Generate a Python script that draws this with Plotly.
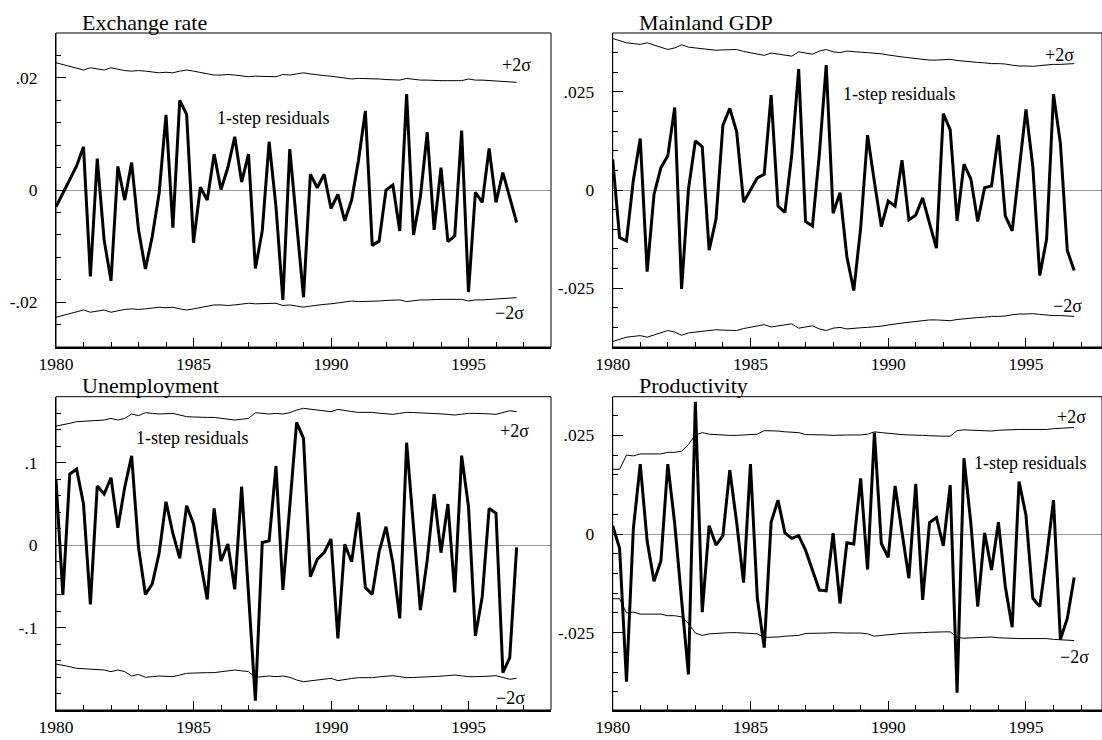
import numpy as np
import plotly.graph_objects as go

# ---------------- data (quarterly, 1980Q1 .. 1996Q4) ----------------
exch_resid = [-0.0030, -0.0005, 0.0018, 0.0043, 0.0077, -0.0154, 0.0056, -0.0089,
              -0.0162, 0.0042, -0.0018, 0.0049, -0.0071, -0.0141, -0.0083, -0.0006,
              0.0134, -0.0067, 0.0160, 0.0135, -0.0094, 0.0005, -0.0018, 0.0064,
              0.0001, 0.0040, 0.0095, 0.0014, 0.0064, -0.0140, -0.0073, 0.0086,
              -0.0030, -0.0196, 0.0073, -0.0055, -0.0191, 0.0028, 0.0004, 0.0028,
              -0.0033, -0.0008, -0.0055, -0.0018, 0.0053, 0.0141, -0.0099, -0.0091,
              0.0000, 0.0009, -0.0073, 0.0171, -0.0080, -0.0012, 0.0103, -0.0071,
              0.0040, -0.0092, -0.0082, 0.0106, -0.0182, -0.0004, -0.0022, 0.0074,
              -0.0022, 0.0031, -0.0015, -0.0058]
exch_2sigma = [0.0227, 0.0224, 0.0220, 0.0217, 0.0214, 0.0218, 0.0216, 0.0214,
               0.0218, 0.0215, 0.0213, 0.0212, 0.0213, 0.0212, 0.0211, 0.0209,
               0.0210, 0.0209, 0.0212, 0.0214, 0.0212, 0.0210, 0.0208, 0.0205,
               0.0205, 0.0206, 0.0205, 0.0204, 0.0202, 0.0203, 0.0203, 0.0202,
               0.0202, 0.0206, 0.0205, 0.0207, 0.0209, 0.0207, 0.0205, 0.0204,
               0.0203, 0.0201, 0.0200, 0.0198, 0.0199, 0.0199, 0.0198, 0.0198,
               0.0197, 0.0197, 0.0196, 0.0199, 0.0197, 0.0196, 0.0196, 0.0195,
               0.0195, 0.0195, 0.0195, 0.0195, 0.0198, 0.0196, 0.0196, 0.0195,
               0.0195, 0.0194, 0.0192, 0.0192]

gdp_resid = [0.0078, -0.0121, -0.0130, 0.0025, 0.0131, -0.0208, -0.0011, 0.0057,
             0.0087, 0.0210, -0.0252, 0.0002, 0.0125, 0.0110, -0.0153, -0.0074,
             0.0165, 0.0208, 0.0148, -0.0031, 0.0000, 0.0031, 0.0040, 0.0242,
             -0.0041, -0.0057, 0.0090, 0.0308, -0.0080, -0.0092, 0.0090, 0.0318,
             -0.0059, -0.0007, -0.0170, -0.0256, -0.0097, 0.0140, 0.0020, -0.0093,
             -0.0028, -0.0041, 0.0076, -0.0076, -0.0064, -0.0020, -0.0085, -0.0148,
             0.0195, 0.0153, -0.0079, 0.0066, 0.0028, -0.0080, 0.0006, 0.0010,
             0.0140, -0.0066, -0.0104, 0.0050, 0.0205, 0.0059, -0.0218, -0.0125,
             0.0244, 0.0119, -0.0154, -0.0205]
gdp_2sigma = [0.0386, 0.0381, 0.0375, 0.0373, 0.0371, 0.0375, 0.0369, 0.0364,
              0.0358, 0.0362, 0.0370, 0.0364, 0.0362, 0.0360, 0.0358, 0.0356,
              0.0357, 0.0358, 0.0358, 0.0353, 0.0350, 0.0347, 0.0343, 0.0349,
              0.0346, 0.0343, 0.0341, 0.0352, 0.0349, 0.0346, 0.0354, 0.0358,
              0.0352, 0.0350, 0.0354, 0.0352, 0.0351, 0.0350, 0.0349, 0.0347,
              0.0344, 0.0341, 0.0339, 0.0337, 0.0335, 0.0332, 0.0331, 0.0331,
              0.0332, 0.0333, 0.0330, 0.0328, 0.0327, 0.0325, 0.0324, 0.0322,
              0.0322, 0.0321, 0.0318, 0.0316, 0.0316, 0.0315, 0.0317, 0.0319,
              0.0320, 0.0320, 0.0321, 0.0322]

unemp_resid = [0.0788, -0.0606, 0.0860, 0.0920, 0.0497, -0.0719, 0.0715, 0.0618,
               0.0816, 0.0210, 0.0700, 0.1080, -0.0028, -0.0600, -0.0470, -0.0100,
               0.0525, 0.0140, -0.0160, 0.0477, 0.0255, -0.0180, -0.0659, 0.0444,
               -0.0194, 0.0012, -0.0537, 0.0707, -0.0600, -0.1887, 0.0030, 0.0050,
               0.0958, -0.0545, 0.0465, 0.1487, 0.1293, -0.0384, -0.0174, -0.0093,
               0.0073, -0.1131, 0.0008, -0.0202, 0.0396, -0.0517, -0.0598, -0.0081,
               0.0222, -0.0222, -0.0889, 0.1240, 0.0220, -0.0788, -0.0180, 0.0618,
               -0.0093, 0.0497, -0.0574, 0.1083, 0.0465, -0.1103, -0.0626, 0.0444,
               0.0384, -0.1547, -0.1366, -0.0028]
unemp_2sigma = [0.1442, 0.1455, 0.1475, 0.1495, 0.1498, 0.1503, 0.1510, 0.1515,
                0.1535, 0.1515, 0.1535, 0.1588, 0.1568, 0.1604, 0.1596, 0.1588,
                0.1592, 0.1596, 0.1576, 0.1556, 0.1552, 0.1547, 0.1547, 0.1547,
                0.1537, 0.1527, 0.1515, 0.1525, 0.1535, 0.1604, 0.1596, 0.1588,
                0.1596, 0.1588, 0.1604, 0.1636, 0.1657, 0.1648, 0.1638, 0.1628,
                0.1616, 0.1644, 0.1628, 0.1618, 0.1608, 0.1608, 0.1608, 0.1598,
                0.1588, 0.1584, 0.1596, 0.1608, 0.1606, 0.1604, 0.1600, 0.1596,
                0.1590, 0.1583, 0.1576, 0.1586, 0.1596, 0.1596, 0.1596, 0.1590,
                0.1584, 0.1606, 0.1628, 0.1616]

prod_resid = [0.0021, -0.0036, -0.0374, 0.0014, 0.0177, -0.0018, -0.0120, -0.0068,
              0.0177, 0.0027, -0.0167, -0.0356, 0.0335, -0.0198, 0.0021, -0.0028,
              -0.0004, 0.0162, 0.0029, -0.0123, 0.0177, -0.0163, -0.0288, 0.0030,
              0.0086, 0.0003, -0.0011, -0.0004, -0.0041, -0.0091, -0.0142, -0.0144,
              0.0002, -0.0176, -0.0022, -0.0025, 0.0141, -0.0090, 0.0257, -0.0024,
              -0.0059, 0.0122, 0.0008, -0.0112, 0.0127, -0.0167, 0.0029, 0.0042,
              -0.0030, 0.0124, -0.0402, 0.0192, 0.0027, -0.0184, 0.0003, -0.0091,
              0.0030, -0.0133, -0.0236, 0.0133, 0.0048, -0.0163, -0.0184, -0.0057,
              0.0086, -0.0267, -0.0214, -0.0110]
prod_2sigma = [0.0164, 0.0164, 0.0200, 0.0198, 0.0203, 0.0203, 0.0203, 0.0203,
               0.0207, 0.0207, 0.0210, 0.0227, 0.0251, 0.0257, 0.0253, 0.0252,
               0.0250, 0.0250, 0.0250, 0.0251, 0.0252, 0.0253, 0.0262, 0.0262,
               0.0261, 0.0259, 0.0258, 0.0257, 0.0252, 0.0252, 0.0252, 0.0251,
               0.0250, 0.0251, 0.0251, 0.0251, 0.0251, 0.0253, 0.0259, 0.0257,
               0.0255, 0.0253, 0.0252, 0.0251, 0.0251, 0.0250, 0.0249, 0.0248,
               0.0248, 0.0248, 0.0262, 0.0264, 0.0263, 0.0262, 0.0262, 0.0261,
               0.0263, 0.0264, 0.0264, 0.0265, 0.0265, 0.0265, 0.0265, 0.0265,
               0.0267, 0.0268, 0.0269, 0.0270]

titles = ["Exchange rate", "Mainland GDP", "Unemployment", "Productivity"]
year_ticks = [1980, 1985, 1990, 1995]
ytick_vals = [[-0.02, 0, 0.02], [-0.025, 0, 0.025], [-0.1, 0, 0.1], [-0.025, 0, 0.025]]
ytick_text = [["-.02", "0", ".02"], ["-.025", "0", ".025"], ["-.1", "0", ".1"], ["-.025", "0", ".025"]]

# ---------------- layout geometry ----------------
W, H = 1102, 740
FONT = "Liberation Serif, Times New Roman, serif"

panels = [
    dict(resid=exch_resid, sig=exch_2sigma, xdom=[56 / W, 551 / W], ydom=[1 - 347 / H, 1 - 33 / H],
         xr=[1980, 1998], yr=[-0.028, 0.028], minor=0.004, tx=80,
         lab_res=(1987.9, 0.0128), lab_up=(1996.76, 0.0223), lab_lo=(1996.5, -0.0219), ty=22),
    dict(resid=gdp_resid, sig=gdp_2sigma, xdom=[612.7 / W, 1.0], ydom=[1 - 347 / H, 1 - 33 / H],
         xr=[1980, 1997.76], yr=[-0.04, 0.04], minor=0.005, tx=637,
         lab_res=(1990.39, 0.0244), lab_up=(1996.2, 0.0343), lab_lo=(1996.5, -0.0295), ty=22),
    dict(resid=unemp_resid, sig=unemp_2sigma, xdom=[56 / W, 551 / W], ydom=[1 - 710 / H, 1 - 396.7 / H],
         xr=[1980, 1998], yr=[-0.2, 0.1798], minor=0.02, tx=80,
         lab_res=(1984.95, 0.1297), lab_up=(1996.67, 0.138), lab_lo=(1996.53, -0.185), ty=385),
    dict(resid=prod_resid, sig=prod_2sigma, xdom=[612.7 / W, 1.0], ydom=[1 - 710 / H, 1 - 396.7 / H],
         xr=[1980, 1997.76], yr=[-0.0446, 0.0348], minor=0.005, tx=637,
         lab_res=(1995.15, 0.018), lab_up=(1996.65, 0.0296), lab_lo=(1996.76, -0.0312), ty=385),
]

fig = go.Figure()
annotations = []
shapes = []

for i, p in enumerate(panels):
    n = i + 1
    xa = "x" if n == 1 else f"x{n}"
    ya = "y" if n == 1 else f"y{n}"
    t = 1980 + np.arange(len(p["resid"])) / 4.0
    ts = 1980 + np.arange(len(p["sig"])) / 4.0
    sig = np.array(p["sig"])
    fig.add_trace(go.Scatter(x=ts, y=sig, mode="lines", line=dict(color="black", width=1),
                             xaxis=xa, yaxis=ya, hoverinfo="skip"))
    fig.add_trace(go.Scatter(x=ts, y=-sig, mode="lines", line=dict(color="black", width=1),
                             xaxis=xa, yaxis=ya, hoverinfo="skip"))
    fig.add_trace(go.Scatter(x=t, y=p["resid"], mode="lines", line=dict(color="black", width=3),
                             xaxis=xa, yaxis=ya))

    xkey = "xaxis" if n == 1 else f"xaxis{n}"
    ykey = "yaxis" if n == 1 else f"yaxis{n}"
    fig.update_layout(**{
        xkey: dict(domain=p["xdom"], range=p["xr"], anchor=ya, showgrid=False, zeroline=False,
                   automargin=False,
                   tickvals=year_ticks, ticktext=[str(v) for v in year_ticks],
                   ticks="inside", ticklen=9, tickwidth=1, tickcolor="black",
                   minor=dict(dtick=1, tick0=0, ticks="inside", ticklen=5, tickwidth=1,
                              tickcolor="black", showgrid=False),
                   showline=True, linewidth=2, linecolor="black",
                   tickfont=dict(family=FONT, size=17.5, color="black"),
                   ticklabelstandoff=0),
        ykey: dict(domain=p["ydom"], range=p["yr"], anchor=xa, showgrid=False,
                   automargin=False,
                   zeroline=True, zerolinecolor="#9a9a9a", zerolinewidth=1,
                   tickvals=ytick_vals[i], ticktext=ytick_text[i],
                   ticks="inside", ticklen=10, tickwidth=1, tickcolor="black",
                   minor=dict(dtick=p["minor"], tick0=0, ticks="inside", ticklen=5, tickwidth=1,
                              tickcolor="black", showgrid=False),
                   showline=True, linewidth=1, linecolor="black",
                   tickfont=dict(family=FONT, size=17.5, color="black"),
                   ticklabelstandoff=14),
    })

    shapes.append(dict(type="rect", xref=f"{xa} domain", yref=f"{ya} domain",
                       x0=0, x1=1, y0=0, y1=1, line=dict(color="black", width=1),
                       fillcolor="rgba(0,0,0,0)", layer="above"))

    lf = dict(family=FONT, size=18, color="black")
    annotations.append(dict(x=p["lab_res"][0], y=p["lab_res"][1], xref=xa, yref=ya,
                            text="1-step residuals", showarrow=False, font=lf,
                            xanchor="center", yanchor="middle"))
    annotations.append(dict(x=p["lab_up"][0], y=p["lab_up"][1], xref=xa, yref=ya,
                            text="+2σ", showarrow=False, font=lf,
                            xanchor="center", yanchor="middle"))
    annotations.append(dict(x=p["lab_lo"][0], y=p["lab_lo"][1], xref=xa, yref=ya,
                            text="\u22122σ", showarrow=False, font=lf,
                            xanchor="center", yanchor="middle"))
    annotations.append(dict(x=p["tx"] / W, y=1 - p["ty"] / H, xref="paper", yref="paper",
                            text=titles[i], showarrow=False,
                            font=dict(family=FONT, size=22, color="black"),
                            xanchor="left", yanchor="middle"))

fig.update_layout(width=W, height=H, margin=dict(l=0, r=0, t=0, b=0, autoexpand=False),
                  plot_bgcolor="white", paper_bgcolor="white", showlegend=False,
                  annotations=annotations, shapes=shapes)

fig.write_html("out.html")
